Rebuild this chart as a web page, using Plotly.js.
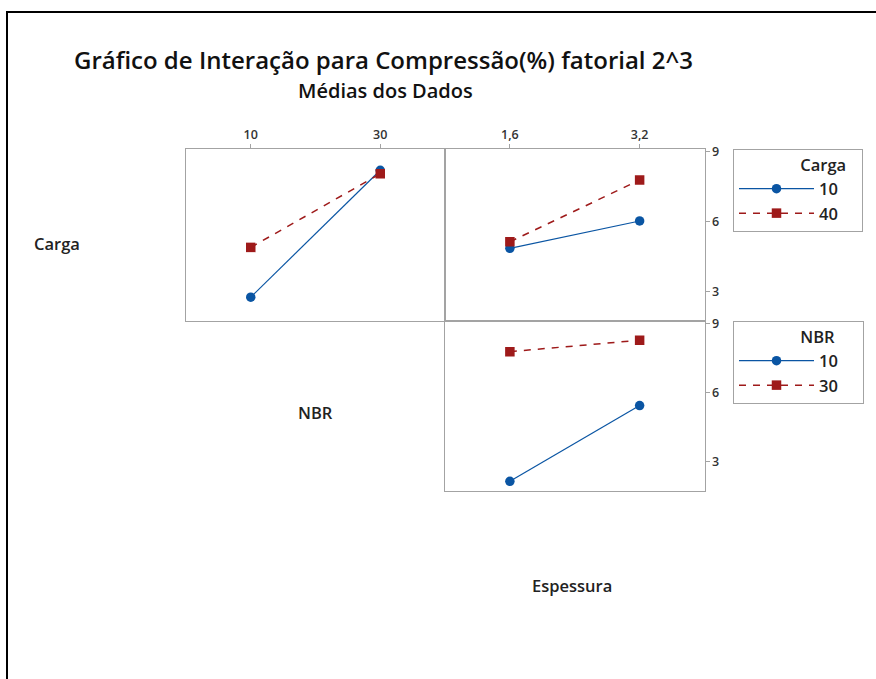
<!DOCTYPE html>
<html>
<head>
<meta charset="utf-8">
<script src="https://cdn.plot.ly/plotly-3.0.1.min.js"></script>
<style>html,body{margin:0;padding:0;background:#fff;}#chart{width:876px;height:679px;}</style>
</head>
<body>
<div id="chart"></div>
<script>
// ---- data ----
const nbrLevels = [10, 30];
const nbrTickText = ['10', '30'];
const espLevels = [1.6, 3.2];
const espTickText = ['1,6', '3,2'];
const cargaNames = ['10', '40'];
const nbrNames = ['10', '30'];
// means of Compressão(%) by Carga across NBR
const carga10_byNBR = [2.76, 8.19];
const carga40_byNBR = [4.89, 8.04];
// means by Carga across Espessura
const carga10_byEsp = [4.85, 6.02];
const carga40_byEsp = [5.13, 7.77];
// means by NBR across Espessura
const nbr10_byEsp = [2.16, 5.44];
const nbr30_byEsp = [7.77, 8.27];
const yTicks = [3, 6, 9];

const W = 876, H = 679;
const px = v => v / W;
const py = v => 1 - v / H;

const blue = '#0a55a3';
const red = '#9e1a1a';
const fontFam = '"Open Sans", "Noto Sans", sans-serif';
const NB = '\u00a0';
const pad = n => NB.repeat(n);

function lvl1(x, y, ax, name, legend, show, grp) {
  return {x: x, y: y, xaxis: ax[0], yaxis: ax[1], name: name, legend: legend, showlegend: show, legendgroup: grp,
    type: 'scatter', mode: 'lines+markers',
    line: {color: blue, width: 1.2}, marker: {color: blue, symbol: 'circle', size: 9.5}};
}
function lvl2(x, y, ax, name, legend, show, grp) {
  return {x: x, y: y, xaxis: ax[0], yaxis: ax[1], name: name, legend: legend, showlegend: show, legendgroup: grp,
    type: 'scatter', mode: 'lines+markers',
    line: {color: red, width: 1.5, dash: '7px,7px'}, marker: {color: red, symbol: 'square', size: 9.5}};
}

const traces = [
  lvl1(nbrLevels, carga10_byNBR, ['x', 'y'], cargaNames[0], 'legend', true, 'c1'),
  lvl2(nbrLevels, carga40_byNBR, ['x', 'y'], cargaNames[1], 'legend', true, 'c2'),
  lvl1(espLevels, carga10_byEsp, ['x2', 'y2'], cargaNames[0], 'legend', false, 'c1'),
  lvl2(espLevels, carga40_byEsp, ['x2', 'y2'], cargaNames[1], 'legend', false, 'c2'),
  lvl1(espLevels, nbr10_byEsp, ['x3', 'y3'], nbrNames[0], 'legend2', true, 'n1'),
  lvl2(espLevels, nbr30_byEsp, ['x3', 'y3'], nbrNames[1], 'legend2', true, 'n2')
];

const axLine = '#a3a3a3';
const tickFont = {family: fontFam, size: 12.5, color: '#333', weight: 600};
const yRange = [1.74, 9.1];
const baseAx = {showgrid: false, zeroline: false, showline: true, mirror: true, linecolor: axLine, linewidth: 1, fixedrange: true};

const lblFont = {family: fontFam, size: 16.5, color: '#222', weight: 600};
const legendCommon = {
  xanchor: 'left', yanchor: 'top', bordercolor: axLine, borderwidth: 1, bgcolor: '#fff',
  font: lblFont,
  itemwidth: 75, tracegroupgap: 0, itemclick: false, itemdoubleclick: false
};

const layout = {
  width: W, height: H,
  margin: {l: 0, r: 0, t: 0, b: 0},
  paper_bgcolor: '#fff', plot_bgcolor: '#fff',
  showlegend: true,
  font: {family: fontFam, color: '#222'},
  xaxis: Object.assign({}, baseAx, {domain: [px(186), px(445)], range: [0, 40], side: 'top', anchor: 'y',
    tickvals: nbrLevels, ticktext: nbrTickText, ticks: 'outside', ticklen: 4, tickcolor: axLine, tickfont: tickFont}),
  yaxis: Object.assign({}, baseAx, {domain: [py(321), py(149)], range: yRange, anchor: 'x', showticklabels: false, ticks: ''}),
  xaxis2: Object.assign({}, baseAx, {domain: [px(445), px(704.5)], range: [0.8, 4.0], side: 'top', anchor: 'y2',
    tickvals: espLevels, ticktext: espTickText, ticks: 'outside', ticklen: 4, tickcolor: axLine, tickfont: tickFont}),
  yaxis2: Object.assign({}, baseAx, {domain: [py(321), py(149)], range: yRange, anchor: 'x2', side: 'right',
    tickvals: yTicks, ticks: 'outside', ticklen: 4, tickcolor: axLine, tickfont: tickFont}),
  xaxis3: Object.assign({}, baseAx, {domain: [px(445), px(704.5)], range: [0.8, 4.0], anchor: 'y3', showticklabels: false, ticks: ''}),
  yaxis3: Object.assign({}, baseAx, {domain: [py(491), py(321)], range: yRange, anchor: 'x3', side: 'right',
    tickvals: yTicks, ticks: 'outside', ticklen: 4, tickcolor: axLine, tickfont: tickFont}),
  legend: Object.assign({}, legendCommon, {x: px(733), y: py(149),
    title: {text: pad(15) + 'Carga' + pad(3), font: lblFont}}),
  legend2: Object.assign({}, legendCommon, {x: px(733), y: py(321),
    title: {text: pad(15) + 'NBR' + pad(6), font: lblFont}}),
  annotations: [
    {text: 'Gráfico de Interação para Compressão(%) fatorial 2^3', xref: 'paper', yref: 'paper', x: px(383), y: py(59),
      xanchor: 'center', yanchor: 'middle', showarrow: false, font: {family: fontFam, size: 24, color: '#111', weight: 600}},
    {text: 'Médias dos Dados', xref: 'paper', yref: 'paper', x: px(385), y: py(91),
      xanchor: 'center', yanchor: 'middle', showarrow: false, font: {family: fontFam, size: 20, color: '#111', weight: 600}},
    {text: 'Carga', xref: 'paper', yref: 'paper', x: px(57), y: py(243),
      xanchor: 'center', yanchor: 'middle', showarrow: false, font: lblFont},
    {text: 'NBR', xref: 'paper', yref: 'paper', x: px(315), y: py(413),
      xanchor: 'center', yanchor: 'middle', showarrow: false, font: lblFont},
    {text: 'Espessura', xref: 'paper', yref: 'paper', x: px(572), y: py(585),
      xanchor: 'center', yanchor: 'middle', showarrow: false, font: lblFont}
  ],
  shapes: [
    {type: 'line', xref: 'paper', yref: 'paper', x0: px(6), x1: 1, y0: py(12), y1: py(12), line: {color: '#000', width: 2}},
    {type: 'line', xref: 'paper', yref: 'paper', x0: px(7), x1: px(7), y0: py(11), y1: 0, line: {color: '#000', width: 2}}
  ]
};

Plotly.newPlot('chart', traces, layout, {displayModeBar: false, staticPlot: true});
</script>
</body>
</html>
